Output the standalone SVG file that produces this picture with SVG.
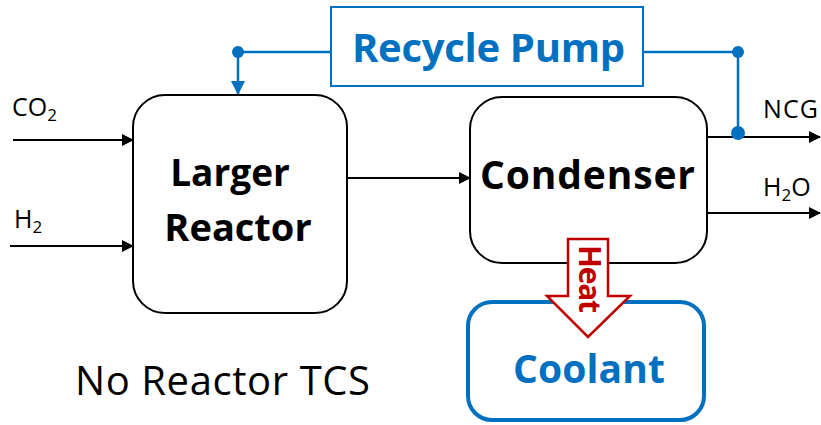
<svg xmlns="http://www.w3.org/2000/svg" width="821" height="425" viewBox="0 0 821 425">
  <style>
    .box { fill: #fff; stroke: #000; stroke-width: 2; }
    .lbl { font-family: "Open Sans", "Liberation Sans", sans-serif; font-weight: bold; font-size: 39px; fill: #000; }
    .io { font-family: "Open Sans", "Liberation Sans", sans-serif; font-size: 25px; fill: #000; }
    .sub { font-size: 17px; }
    .flow { stroke: #000; stroke-width: 2; fill: none; marker-end: url(#ah); }
    .blue { stroke: #0070C0; stroke-width: 2.5; fill: none; }
  </style>
  <defs>
    <marker id="ah" markerWidth="12" markerHeight="12" refX="11" refY="6" orient="auto" markerUnits="userSpaceOnUse">
      <path d="M0,0 L12,6 L0,12 Z" fill="#000"/>
    </marker>
    <marker id="ahb" markerWidth="14" markerHeight="14" refX="13" refY="7" orient="auto" markerUnits="userSpaceOnUse">
      <path d="M0,0 L14,7 L0,14 Z" fill="#0070C0"/>
    </marker>
  </defs>

  <!-- process streams -->
  <g id="connectors">
    <line class="flow" x1="13" y1="140" x2="133" y2="140"/>
    <line class="flow" x1="10" y1="246" x2="133" y2="246"/>
    <line class="flow" x1="348" y1="178" x2="470" y2="178"/>
    <line class="flow" x1="707" y1="137" x2="820" y2="137"/>
    <line class="flow" x1="707" y1="213" x2="820" y2="213"/>
    <!-- recycle loop -->
    <polyline class="blue" points="738,137 738,52 643,52"/>
    <line class="blue" x1="331" y1="52" x2="238" y2="52"/>
    <line class="blue" x1="238" y1="52" x2="238" y2="94" marker-end="url(#ahb)"/>
    <circle cx="238" cy="52" r="6" fill="#0070C0"/>
    <circle cx="738" cy="52" r="6" fill="#0070C0"/>
    <circle cx="738" cy="133" r="7" fill="#0070C0"/>
  </g>

  <g id="in-co2">
    <text class="io" x="12" y="116">CO<tspan class="sub" dy="5">2</tspan></text>
  </g>
  <g id="in-h2">
    <text class="io" x="14" y="228">H<tspan class="sub" dy="5">2</tspan></text>
  </g>
  <g id="out-ncg">
    <text class="io" x="763" y="118" textLength="55">NCG</text>
  </g>
  <g id="out-h2o">
    <text class="io" x="763" y="196">H<tspan class="sub" dy="5">2</tspan><tspan dy="-5">O</tspan></text>
  </g>

  <g id="reactor">
    <rect class="box" x="133" y="95" width="214" height="218" rx="32"/>
    <text class="lbl" style="font-size:37px" text-anchor="middle" x="230" y="186">Larger</text>
    <text class="lbl" style="font-size:38px" text-anchor="middle" x="238" y="241">Reactor</text>
  </g>

  <g id="condenser">
    <rect class="box" x="470" y="97" width="237" height="166" rx="32"/>
    <text class="lbl" x="480" y="189" textLength="215">Condenser</text>
  </g>

  <g id="recycle-pump">
    <rect x="331" y="7" width="312" height="79" fill="#fff" stroke="#0070C0" stroke-width="2"/>
    <text class="lbl" x="352" y="62" textLength="273" style="fill:#0070C0;font-size:40px">Recycle Pump</text>
  </g>

  <g id="coolant">
    <rect x="468" y="302" width="236" height="118" rx="24" fill="#fff" stroke="#0070C0" stroke-width="4"/>
    <text class="lbl" x="513" y="383" textLength="152" style="fill:#0070C0">Coolant</text>
  </g>

  <g id="heat">
    <path d="M568,239 L608,239 L608,296 L630,296 L588,337 L547,296 L568,296 Z" fill="#fff" stroke="#C00000" stroke-width="2.5"/>
    <text class="lbl" style="fill:#C00000;font-size:30px" transform="translate(579,245) rotate(90)" textLength="68">Heat</text>
  </g>

  <g id="caption">
    <text font-family="'Open Sans', 'Liberation Sans', sans-serif" font-size="40" x="75" y="395" textLength="295" fill="#000">No Reactor TCS</text>
  </g>
</svg>
